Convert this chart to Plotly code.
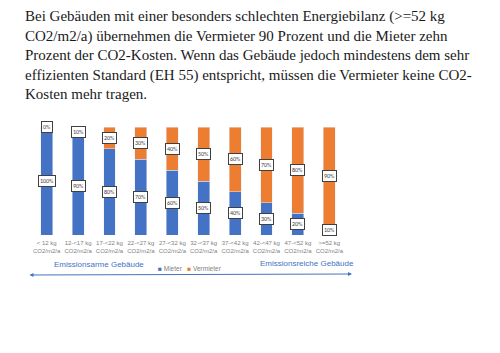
import plotly.graph_objects as go

categories = ["&lt; 12 kg<br>CO2/m2/a", "12-&lt;17 kg<br>CO2/m2/a", "17-&lt;22 kg<br>CO2/m2/a",
              "22-&lt;27 kg<br>CO2/m2/a", "27-&lt;32 kg<br>CO2/m2/a", "32-&lt;37 kg<br>CO2/m2/a",
              "37-&lt;42 kg<br>CO2/m2/a", "42-&lt;47 kg<br>CO2/m2/a", "47-&lt;52 kg<br>CO2/m2/a",
              "&gt;=52 kg<br>CO2/m2/a"]
mieter = [100, 90, 80, 70, 60, 50, 40, 30, 20, 10]
vermieter = [0, 10, 20, 30, 40, 50, 60, 70, 80, 90]

intro_lines = [
    "Bei Gebäuden mit einer besonders schlechten Energiebilanz (&gt;=52 kg",
    "CO2/m2/a) übernehmen die Vermieter 90 Prozent und die Mieter zehn",
    "Prozent der CO2-Kosten. Wenn das Gebäude jedoch mindestens dem sehr",
    "effizienten Standard (EH 55) entspricht, müssen die Vermieter keine CO2-",
    "Kosten mehr tragen.",
]

BLUE = "#4472C4"
ORANGE = "#ED7D31"
W, H = 500, 353

def px_x(p):
    return p / W

def px_y(p):
    return (H - p) / H

fig = go.Figure()
fig.add_trace(go.Bar(x=categories, y=mieter, name="Mieter", marker_color=BLUE, showlegend=False))
fig.add_trace(go.Bar(x=categories, y=vermieter, name="Vermieter", marker_color=ORANGE, showlegend=False))

annotations = []
label_style = dict(showarrow=False, bgcolor="white", bordercolor="#404040", borderwidth=1,
                   borderpad=1, font=dict(size=6, color="#404040", family="Calibri, Carlito, Liberation Sans, sans-serif"))
for c, m, v in zip(categories, mieter, vermieter):
    annotations.append(dict(x=c, y=m / 2, xref="x", yref="y", text=f"{m}%", **label_style))
    annotations.append(dict(x=c, y=m + v / 2, xref="x", yref="y", text=f"{v}%", **label_style))

annotations.append(dict(x=px_x(23), y=px_y(6), xref="paper", yref="paper", xanchor="left", yanchor="top",
                        align="left", showarrow=False, text="<br>".join(intro_lines),
                        font=dict(family="Liberation Serif, serif", size=15, color="#1a1a1a")))

annotations.append(dict(x=px_x(52), y=px_y(264), xref="paper", yref="paper", xanchor="left", yanchor="middle",
                        showarrow=False, text="Emissionsarme Gebäude",
                        font=dict(family="Liberation Sans, sans-serif", size=8, color=BLUE)))
annotations.append(dict(x=px_x(258), y=px_y(263), xref="paper", yref="paper", xanchor="left", yanchor="middle",
                        showarrow=False, text="Emissionsreiche Gebäude",
                        font=dict(family="Liberation Sans, sans-serif", size=8, color=BLUE)))
annotations.append(dict(x=px_x(156), y=px_y(268), xref="paper", yref="paper", xanchor="left", yanchor="middle",
                        showarrow=False,
                        text=f"<span style='color:{BLUE}'>■</span> Mieter   <span style='color:{ORANGE}'>■</span> Vermieter",
                        font=dict(family="Liberation Sans, sans-serif", size=6.5, color="#7f7f7f")))
annotations.append(dict(x=px_x(352), y=px_y(274), ax=-324, ay=1, xref="paper", yref="paper",
                        axref="pixel", ayref="pixel", text="", showarrow=True, arrowhead=2, startarrowhead=2,
                        arrowside="end+start", arrowsize=0.8, arrowwidth=1, arrowcolor=BLUE))

fig.update_layout(
    width=W, height=H,
    margin=dict(l=0, r=0, t=0, b=0),
    paper_bgcolor="white", plot_bgcolor="white",
    barmode="stack", bargap=0.62,
    showlegend=False,
    annotations=annotations,
    xaxis=dict(type="category", domain=[px_x(31), px_x(345)], range=[-0.5, 9.5],
               showgrid=False, showline=False, zeroline=False, ticks="", ticklabelstandoff=3,
               tickfont=dict(size=6, color="#7f7f7f", family="Liberation Sans, sans-serif"),
               tickangle=0),
    yaxis=dict(domain=[px_y(235), px_y(127)], range=[0, 100], visible=False),
)

fig.write_html("out.html")
